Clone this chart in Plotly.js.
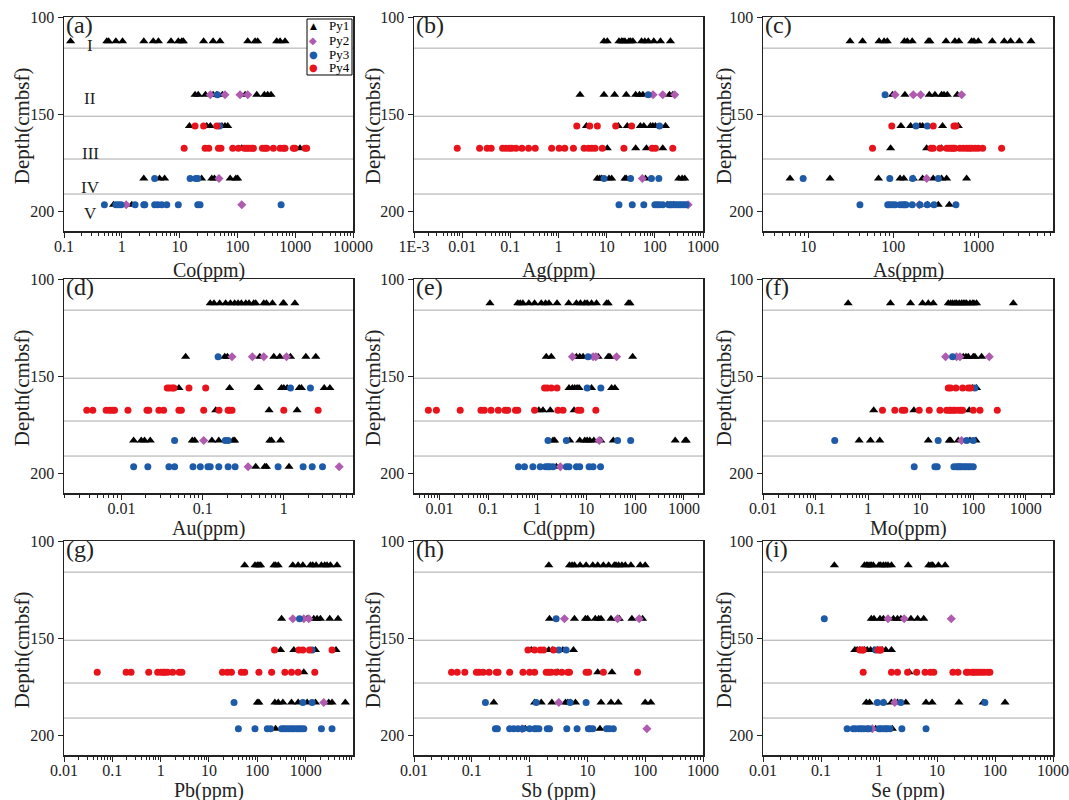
<!DOCTYPE html>
<html>
<head>
<meta charset="utf-8">
<script src="https://cdn.plot.ly/plotly-3.0.1.min.js"></script>
<style>html,body{margin:0;padding:0;background:#fff}#chart{width:1069px;height:800px}</style>
</head>
<body>
<div id="chart"></div>
<script>
// Depth (cmbsf) of each sampling row
const depthRows = [112.5, 140, 156, 167.5, 183, 196.5];
// Unit boundary depths
const boundaries = [116, 151, 173, 191];
const unitLabels = ["I", "II", "III", "IV", "V"];
const unitLabelDepths = [114.8, 142, 170, 187.5, 201];
const seriesNames = ["Py1", "Py2", "Py3", "Py4"];
const legendSymbols = ["▲", "◆", "●", "●"];
const panelLetters = ["(a)", "(b)", "(c)", "(d)", "(e)", "(f)", "(g)", "(h)", "(i)"];
const xTitles = ["Co(ppm)", "Ag(ppm)", "As(ppm)", "Au(ppm)", "Cd(ppm)", "Mo(ppm)", "Pb(ppm)", "Sb (ppm)", "Se (ppm)"];
const yTitle = "Depth(cmbsf)";

// tick labels per panel
const ticksA = [0.1, 1, 10, 100, 1000, 10000];
const ticksAText = ["0.1", "1", "10", "100", "1000", "10000"];
const ticksB = [0.001, 0.01, 0.1, 1, 10, 100, 1000];
const ticksBText = ["1E-3", "0.01", "0.1", "1", "10", "100", "1000"];
const ticksC = [10, 100, 1000];
const ticksCText = ["10", "100", "1000"];
const ticksD = [0.01, 0.1, 1];
const ticksDText = ["0.01", "0.1", "1"];
const ticksE = [0.01, 0.1, 1, 10, 100, 1000];
const ticksEText = ["0.01", "0.1", "1", "10", "100", "1000"];
const ticksG = [0.01, 0.1, 1, 10, 100, 1000, 10000];
const ticksGText = ["0.01", "0.1", "1", "10", "100", "1000", "10000"];
const yTicks = [100, 150, 200];

// ---- (a) Co ----
const Co_Py1 = [[0.13,0.55,0.59,0.79,1.03,2.4,3.5,4.3,7.1,9.5,10.9,11.6,26,38,50,151,202,224,478,547,667],
  [18.5,21,28,38,44,55,136,216,293,334,382],[14.8,29.5,34,54,61,68],[119,1210],
  [2.4,4.5,5.5,24,36,40,75,94,101],[0.72,1.49]];
const Co_Py2 = [[],[34,61,111,151],[],[],[48],[1.19,119]];
const Co_Py3 = [[],[45],[49],[],[3.7,15.2,19,20.6],[0.5,0.79,0.88,0.97,1.7,2.4,2.5,3.7,4.2,4.9,6,9.5,20.6,22.6,570]];
const Co_Py4 = [[],[],[18.5,26,44],[12,27.6,32,47,52,83,104,132,145,159,177,189,271,301,322,419,547,624,667,930,993,1480,1580],[],[]];

// ---- (b) Ag ----
const Ag_Py1 = [[8.8,10.3,18,20.4,21.8,24,29,31.4,35,53,62,73,95,131,211],
  [2.8,8.8,14.6,25.5,40,48,56.5,201,236],[3.8,17.4,26.8,50,59,81,91,103,166],[10.3,40,67,146],
  [6.4,7.2,7.9,11.2,12.7,24,25.5,64,314,368,418],[180,247]];
const Ag_Py2 = [[],[92,146,259],[],[],[55],[490]];
const Ag_Py3 = [[],[73],[125],[],[8.8,31.4,85,121],[18,34,59,100,112,125,146,195,211,228,259,290,324,356,398,445]];
const Ag_Py4 = [[],[],[2.4,4.45,6.4,15.4,33],[0.0079,0.023,0.033,0.04,0.069,0.081,0.095,0.107,0.131,0.174,0.239,0.329,0.72,1.03,1.35,2.04,3.4,4.18,4.9,5.74,8.1,22.8,88,103,236],[],[]];

// ---- (c) As ----
const As_Py1 = [[31,43.5,68,78,85,135,146,167,258,270,417,531,592,835,889,1000,1460,2020,2400,3040,4170],
  [98,137,265,309,370,395,432,566],[123,160,206,221,380,582],[93,247,370],
  [6.1,18,67,120,133,172,221,295,370,424,729],[253,338,456]];
const As_Py2 = [[],[105,172,210,637],[],[],[247],[202]];
const As_Py3 = [[],[80],[185,251],[],[8.7,91,169,338],[40.5,86,91,98,105,120,129,135,141,167,206,251,301,546]];
const As_Py4 = [[],[],[96,295,517,546],[57,277,295,354,424,456,485,508,531,608,666,729,784,835,914,1000,1125,1880],[],[]];

// ---- (d) Au ----
const Au_Py1 = [[0.124,0.138,0.162,0.192,0.22,0.248,0.273,0.3,0.34,0.373,0.426,0.451,0.567,0.611,0.725,0.98,1.0,1.37],
  [0.0617,0.187,0.202,0.506,0.753,0.893,1.21,1.87,2.48],[0.051,0.215,0.482,0.496,0.936,1.0,1.1,1.55,1.65,3.15,3.7],
  [0.145,0.659,1.46],[0.0141,0.0175,0.0192,0.0226,0.0745,0.0797,0.13,0.158,0.237,0.248,0.672,0.705,0.91],[0.451,0.582,0.611,1.16]];
const Au_Py2 = [[],[0.23,0.41,0.567,1.08],[],[],[0.103],[0.363,4.82]];
const Au_Py3 = [[],[0.155],[1.21,2.13],[],[0.0451,0.19,0.206],[0.0141,0.0211,0.0384,0.0451,0.076,0.0936,0.116,0.124,0.158,0.206,0.251,0.851,1.73,2.24,3.0]];
const Au_Py4 = [[],[],[0.0366,0.0392,0.0423,0.0443,0.0678,0.109],[0.00373,0.00442,0.00647,0.00711,0.00767,0.0082,0.012,0.0206,0.0217,0.0289,0.033,0.051,0.0546,0.103,0.159,0.206,0.215,0.23,1.0,2.65],[],[]];

// ---- (e) Cd ----
const Cd_Py1 = [[0.108,0.4,0.448,0.508,0.675,0.882,1.21,1.48,1.74,2.54,4.4,6.33,7.65,9.4,10.5,12.9,16.3,26.2,28.3,73,79],
  [1.53,1.94,6.33,7.41,8.67,17.6,28.3,30.6,89.5],[4.47,5.24,5.85,6.53,7.18,12.9,33.2,38.8],[1.08,1.31,1.85,5.67],
  [2.1,2.27,4.62,7.41,9.4,10.5,11.9,14.4,20,35.9,664,1065,1117],[2.46]];
const Cd_Py2 = [[],[5.24,13.9,15.8,42],[],[],[18.5],[2.97]];
const Cd_Py3 = [[],[11],[10.5,20],[],[1.66,3.94,44,81.5],[0.413,0.549,0.815,1.15,1.48,1.66,1.79,2.1,3.94,4.47,6.33,7.41,11.5,13.9,19.7]];
const Cd_Py4 = [[],[],[1.41,1.6,1.94,2.54],[0.00594,0.00867,0.0266,0.0707,0.0828,0.1135,0.16,0.22,0.249,0.359,0.4,0.882,2.66,3.37,6.85,7.77,15.8],[],[]];

// ---- (f) Mo ----
const Mo_Py1 = [[0.417,2.67,6.43,10.9,14,17.4,33.6,37.2,40.6,45,48.4,54.4,60.3,64.9,69.8,75,86.9,97.7,103.5,116,582],
  [64.9,73,80.8,100.6,108,145],[97.7,116],[1.28,7.45,84.4],[0.676,1.11,1.67,14,35.1,37.2,52.1,86.9,113],[]];
const Mo_Py2 = [[],[29.9,48.4,56,203],[],[],[60.3],[]];
const Mo_Py3 = [[],[40.6],[108],[],[0.232,21.6,75,100.6],[7.55,18.7,20.7,43,48.4,52.1,56,60.3,66.8,73,80.8,89.5,100.6]];
const Mo_Py4 = [[],[],[33.6,37.2,47,63,80.8,89.5],[1.88,3.23,4.46,5.01,9.4,14.6,23.3,31.2,35.1,37.2,41.8,45,52.1,57.7,63,100.6,135,288],[],[]];

// ---- (g) Pb ----
const Pb_Py1 = [[54.8,89.5,100,108,117,221,239,271,543,700,875,1260,1406,1645,2120,2483,2774,3250,4460],
  [318,1075,1473,1726,2022,3150,4680],[303,570,1596,4256],[917],
  [100,108,231,271,338,510,700,1075,1596,3006,3515,6620],[239]];
const Pb_Py2 = [[],[543,917,1161],[],[],[2371],[]];
const Pb_Py3 = [[],[747],[1361],[],[33,875,1361],[40.6,89.5,161,188,318,355,396,450,510,570,647,723,808,917,2120,3515]];
const Pb_Py4 = [[],[],[227,723,875,1199,3515],[0.0487,0.193,0.244,0.566,0.868,1.02,1.14,1.23,1.39,1.77,2.42,2.75,19,24,29.1,46.8,54.8,108,198,372,510,700,1545],[],[]];

// ---- (h) Sb ----
const Sb_Py1 = [[2.15,4.9,5.44,5.97,7.47,9.5,12.4,15.1,18.9,23.3,29.2,31.2,34.7,39.6,45.2,56.6,82,100],
  [2.21,5.97,9.24,10.1,13.7,15.7,17.2,25.6,33.3,35.6,58.9,90],[1.07,2.15,2.46,3.76,5.74],[3.08,15.1,26.6],
  [0.24,1.22,1.59,2.43,4.18,4.58,5.03,6.21,17.2,25.6,34.2,100,125],[0.842,16.5]];
const Sb_Py2 = [[],[4.01,33.3,78.8],[],[],[3.2],[0.738,107]];
const Sb_Py3 = [[],[2.88],[3.2,4.29],[],[0.172,1.3,5.03,9.5],[0.256,0.277,0.452,0.53,0.629,0.767,1.0,1.22,1.3,1.45,2.02,2.21,4.4,6.63,10.4,11.1,12.4,21.5,24,28.1]];
const Sb_Py4 = [[],[],[0.936,1.22,1.53,1.74,2.59],[0.0446,0.0559,0.0757,0.12,0.134,0.157,0.199,0.266,0.284,0.452,0.767,1.0,1.22,1.94,2.15,2.36,2.88,3.61,4.58,4.9,9.5,10.5,18.9,73.7],[],[]];

// ---- (i) Se ----
const Se_Py1 = [[0.17,0.563,0.61,0.644,0.698,0.736,0.797,1.0,1.07,1.19,1.31,1.43,1.64,3.19,7.2,7.9,8.45,10.6,13.8],
  [0.736,0.819,1.04,1.19,1.77,2.08,2.38,3.55,4.64,5.9],[0.383,0.42,0.468,0.563,0.627,0.717,0.819,0.935,1.14,1.31,1.64],[3.32],
  [0.603,0.689,1.22,1.64,2.08,2.9,6.47,8.23,23.9,62.5,149],[0.875,1.7]];
const Se_Py2 = [[],[1.43,2.72,17.6],[],[],[1.87],[0.766]];
const Se_Py3 = [[],[0.114],[0.875],[],[0.935,1.19,2.38,66.8],[0.282,0.358,0.393,0.449,0.493,0.548,0.627,0.67,1.0,1.07,1.19,1.31,1.38,1.55,2.48,6.47]];
const Se_Py4 = [[],[],[0.468,0.513,0.534,0.961,1.04,1.07],[0.534,1.64,2.08,3.11,4.46,6.22,7.7,8.8,18.8,23,32.1,34.3,40.2,43.6,47.9,52.6,58.5,65,74.3,81.6],[],[]];

// ---------- build ----------
const panelData = [
  [Co_Py1, Co_Py2, Co_Py3, Co_Py4],
  [Ag_Py1, Ag_Py2, Ag_Py3, Ag_Py4],
  [As_Py1, As_Py2, As_Py3, As_Py4],
  [Au_Py1, Au_Py2, Au_Py3, Au_Py4],
  [Cd_Py1, Cd_Py2, Cd_Py3, Cd_Py4],
  [Mo_Py1, Mo_Py2, Mo_Py3, Mo_Py4],
  [Pb_Py1, Pb_Py2, Pb_Py3, Pb_Py4],
  [Sb_Py1, Sb_Py2, Sb_Py3, Sb_Py4],
  [Se_Py1, Se_Py2, Se_Py3, Se_Py4]
];
const panelTicks = [
  [ticksA, ticksAText], [ticksB, ticksBText], [ticksC, ticksCText],
  [ticksD, ticksDText], [ticksE, ticksEText], [ticksE, ticksEText],
  [ticksG, ticksGText], [ticksE, ticksEText], [ticksE, ticksEText]
];
const xRanges = [[-1, 4], [-3, 3], [0.467, 3.879], [-2.709, 0.853], [-2.52, 3.39], [-2, 3.52], [-2, 3.98], [-2, 3], [-2, 3]];

const W = 1069, H = 800;
const colX = [[64, 353], [414, 703], [763, 1053]];
const rowY = [[17, 231], [279, 493], [541, 755]];
const yTitleX = [22, 373, 724];      // px centre of rotated y titles
const xTitleY = [270, 528, 790];     // px centre of x titles

const markerStyles = [
  {symbol: 'triangle-up', color: '#000000', size: 8},
  {symbol: 'diamond', color: '#b05ab0', size: 7},
  {symbol: 'circle', color: '#1d5aa8', size: 7},
  {symbol: 'circle', color: '#e8131b', size: 7}
];

const FONT = "'Liberation Serif', 'Times New Roman', Times, serif";
const INK = '#222';
const traces = [];
const layout = {
  width: W, height: H,
  margin: {l: 0, r: 0, t: 0, b: 0},
  paper_bgcolor: '#ffffff', plot_bgcolor: '#ffffff',
  font: {family: FONT, color: INK},
  showlegend: false,
  shapes: [], annotations: []
};

for (let p = 0; p < 9; p++) {
  const n = p === 0 ? '' : String(p + 1);
  const c = p % 3, r = Math.floor(p / 3);
  const xa = 'x' + n, ya = 'y' + n;
  panelData[p].forEach((rows, s) => {
    const xs = [], ys = [];
    rows.forEach((vals, ri) => vals.forEach(v => { xs.push(v); ys.push(depthRows[ri]); }));
    traces.push({
      type: 'scatter', mode: 'markers', x: xs, y: ys, xaxis: xa, yaxis: ya,
      name: seriesNames[s], showlegend: false,
      marker: {symbol: markerStyles[s].symbol, color: markerStyles[s].color, size: markerStyles[s].size, line: {width: 0}}
    });
  });
  layout['xaxis' + n] = {
    type: 'log', domain: [colX[c][0] / W, colX[c][1] / W], anchor: ya,
    range: xRanges[p], autorange: false,
    tickmode: 'array', tickvals: panelTicks[p][0], ticktext: panelTicks[p][1],
    ticks: 'outside', ticklen: 5, tickwidth: 1, tickcolor: INK,
    ticklabelstandoff: -5,
    minor: {ticks: 'outside', ticklen: 3, tickwidth: 1, tickcolor: INK, dtick: 'D1', showgrid: false},
    showline: true, linecolor: INK, linewidth: 1.5, mirror: true,
    showgrid: false, zeroline: false,
    tickfont: {family: FONT, size: 16, color: INK}
  };
  layout['yaxis' + n] = {
    domain: [1 - rowY[r][1] / H, 1 - rowY[r][0] / H], anchor: xa,
    range: [210, 100], autorange: false,
    tickmode: 'array', tickvals: yTicks,
    ticks: 'outside', ticklen: 5, tickwidth: 1, tickcolor: INK,
    showline: true, linecolor: INK, linewidth: 1.5, mirror: true,
    showgrid: false, zeroline: false,
    tickfont: {family: FONT, size: 16, color: INK}
  };
  boundaries.forEach(d => layout.shapes.push({
    type: 'line', xref: xa + ' domain', x0: 0, x1: 1, yref: ya, y0: d, y1: d,
    line: {color: '#a8a8a8', width: 1}, layer: 'below'
  }));
  layout.annotations.push({
    text: panelLetters[p], xref: xa + ' domain', yref: ya + ' domain', x: 0.0, y: 1.035,
    xanchor: 'left', yanchor: 'top', showarrow: false,
    font: {family: FONT, size: 24, color: INK}
  });
  // axis titles
  layout.annotations.push({
    text: xTitles[p], xref: xa + ' domain', yref: 'paper', x: 0.5, y: 1 - xTitleY[r] / H,
    xanchor: 'center', yanchor: 'middle', showarrow: false,
    font: {family: FONT, size: 20, color: INK}
  });
  layout.annotations.push({
    text: yTitle, xref: 'paper', yref: ya + ' domain', x: yTitleX[c] / W, y: 0.49,
    xanchor: 'center', yanchor: 'middle', textangle: -90, showarrow: false,
    font: {family: FONT, size: 21, color: INK}
  });
}
// unit labels in panel (a)
unitLabels.forEach((t, i) => layout.annotations.push({
  text: t, xref: 'x domain', yref: 'y', x: 0.09, y: unitLabelDepths[i],
  xanchor: 'center', yanchor: 'middle', showarrow: false,
  font: {family: FONT, size: 17, color: INK}
}));

// compact legend box inside panel (a), top-right corner
const legL = 307, legR = 352, legT = 19, legB = 75;
layout.shapes.push({
  type: 'rect', xref: 'paper', yref: 'paper',
  x0: legL / W, x1: legR / W, y0: 1 - legB / H, y1: 1 - legT / H,
  line: {color: '#000', width: 1}, fillcolor: '#fff', layer: 'above'
});
const legRowH = (legB - legT) / 4;
seriesNames.forEach((nm, i) => {
  const yc = 1 - (legT + legRowH * (i + 0.5)) / H;
  layout.annotations.push({
    text: legendSymbols[i], xref: 'paper', yref: 'paper', x: (legL + 6) / W, y: yc,
    xanchor: 'center', yanchor: 'middle', showarrow: false,
    font: {family: 'DejaVu Sans', size: i === 0 ? 9 : 10, color: markerStyles[i].color}
  });
  layout.annotations.push({
    text: nm, xref: 'paper', yref: 'paper', x: (legL + 20) / W, y: yc,
    xanchor: 'left', yanchor: 'middle', showarrow: false,
    font: {family: FONT, size: 13, color: '#000'}
  });
});

Plotly.newPlot('chart', traces, layout, {displayModeBar: false, staticPlot: true});
</script>
</body>
</html>
